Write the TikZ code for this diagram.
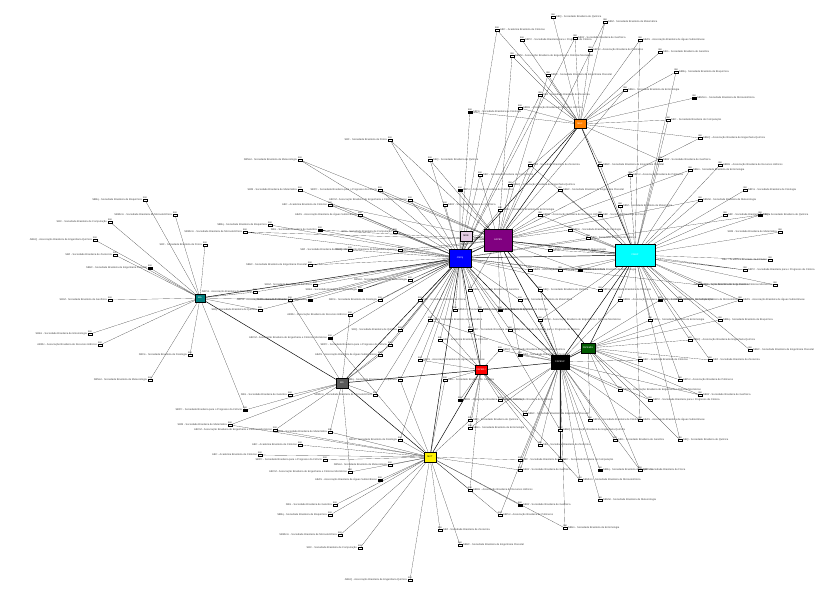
\documentclass[tikz,border=0pt]{standalone}
\usepackage{fontspec}
\setmainfont{Liberation Sans}
\usetikzlibrary{positioning,backgrounds}
\definecolor{cianoviv}{rgb}{0,1,1}
\definecolor{roxoesc}{rgb}{0.5,0,0.5}
\tikzset{
  hub/.style={draw=black, line width=0.3pt, inner sep=0pt, font=\fontsize{2}{2.4}\selectfont, text=white},
  leaf/.style={draw=black, line width=0.2pt, fill=white, minimum width=0.14cm, minimum height=0.08cm, inner sep=0pt},
  lbl/.style={font=\fontsize{2.2}{2.6}\selectfont, text=black!75, inner sep=0.4pt},
  num/.style={font=\fontsize{1.8}{2}\selectfont, inner sep=0.2pt},
  link/.style={line width=0.12pt, black!85},
  tie/.style={line width=0.4pt, black}
}
\newcommand\nomeorg[1]{\ifcase#1 SBF - Sociedade Brasileira de Física\or
  SBQ - Sociedade Brasileira de Química\or
  SBM - Sociedade Brasileira de Matemática\or
  ABC - Academia Brasileira de Ciências\or
  SBPC - Sociedade Brasileira para o Progresso da Ciência\or
  ABCM - Associação Brasileira de Engenharia e Ciências Mecânicas\or
  ABAS - Associação Brasileira de Águas Subterrâneas\or
  SBG - Sociedade Brasileira de Genética\or
  SBBq - Sociedade Brasileira de Bioquímica\or
  SBMicro - Sociedade Brasileira de Microeletrônica\or
  SBC - Sociedade Brasileira de Computação\or
  ABEQ - Associação Brasileira de Engenharia Química\or
  SBZ - Sociedade Brasileira de Zootecnia\or
  SBEF - Sociedade Brasileira de Engenharia Florestal\or
  ABPol - Associação Brasileira de Polímeros\or
  SBGf - Sociedade Brasileira de Geofísica\or
  SBEn - Sociedade Brasileira de Entomologia\or
  ABRH - Associação Brasileira de Recursos Hídricos\or
  SBFis - Sociedade Brasileira de Fisiologia\or
  SBMet - Sociedade Brasileira de Meteorologia\fi}

\begin{document}
\begin{tikzpicture}[x=0.03cm, y=-0.03cm]
\begin{pgfonlayer}{background}
\fill[white] (0,0) rectangle (822,595);
\end{pgfonlayer}
\useasboundingbox (0,0) rectangle (822,595);

% hubs
\node[hub, fill=blue, minimum width=0.66cm, minimum height=0.54cm] (azul) at (460,258) {CNPq};
\node[hub, fill=roxoesc, minimum width=0.84cm, minimum height=0.66cm] (roxo) at (498,240) {CAPES};
\node[hub, fill=cianoviv, minimum width=1.2cm, minimum height=0.66cm] (ciano) at (635,255) {FINEP};
\node[hub, fill=black, minimum width=0.54cm, minimum height=0.42cm] (preto) at (560,362) {FAPESP};
\node[hub, fill=green!35!black, minimum width=0.42cm, minimum height=0.3cm] (verde) at (588,348) {FAPEMIG};
\node[hub, fill=red, minimum width=0.36cm, minimum height=0.27cm] (verm) at (481,370) {FAPERJ};
\node[hub, fill=yellow, text=black, minimum width=0.36cm, minimum height=0.3cm] (amar) at (430,457) {MCT};
\node[hub, fill=orange, minimum width=0.36cm, minimum height=0.27cm] (laranja) at (580,124) {MEC};
\node[hub, fill=black!65, minimum width=0.36cm, minimum height=0.3cm] (cinza) at (342,383) {MS};
\node[hub, fill=teal, minimum width=0.3cm, minimum height=0.24cm] (petro) at (200,298) {MA};
\node[hub, fill=violet!20, text=black, minimum width=0.36cm, minimum height=0.3cm] (lilas) at (466,236) {MRE};

% ligacoes entre hubs
\begin{pgfonlayer}{background}
\foreach \a/\b in {azul/roxo, azul/ciano, roxo/ciano, azul/preto, azul/verm, azul/amar,
  azul/cinza, azul/petro, roxo/laranja, azul/laranja, ciano/laranja, ciano/preto,
  ciano/verde, preto/verde, preto/verm, verm/amar, cinza/amar, cinza/petro,
  roxo/preto, azul/lilas, lilas/roxo, roxo/verde, verm/cinza}
  \draw[tie] (\a) -- (\b);
\end{pgfonlayer}

% entidades
\foreach \x/\y/\h/\k [count=\n] in {
  553/17/laranja/laranja, 605/22/laranja/roxo, 497/30/laranja/azul, 522/40/laranja/laranja,
  512/56/laranja/roxo, 640/40/laranja/ciano, 660/52/laranja/laranja, 676/72/laranja/ciano,
  694/98/laranja/laranja, 668/120/laranja/ciano, 700/138/laranja/roxo, 540/95/laranja/azul,
  548/75/laranja/roxo, 590/50/laranja/laranja, 575/38/laranja/azul, 625/90/laranja/roxo,
  520/108/laranja/azul, 470/112/laranja/azul,
  300/160/azul/roxo, 390/140/roxo/azul, 430/160/azul/roxo, 300/190/azul/azul,
  330/205/azul/roxo, 380/190/azul/roxo, 410/200/roxo/azul, 360/215/azul/azul,
  320/230/azul/roxo, 270/225/azul/azul, 245/232/azul/roxo, 395/232/azul/azul,
  400/250/azul/roxo, 350/250/azul/azul, 310/265/azul/roxo, 290/300/azul/cinza,
  315/285/azul/azul, 360/290/azul/roxo, 350/315/azul/cinza, 380/300/azul/azul,
  410/280/azul/roxo, 420/300/azul/verm, 400/330/azul/azul, 430/320/azul/preto,
  440/340/azul/verm, 390/345/azul/cinza, 330/338/azul/amar, 420/360/verm/azul,
  445/380/verm/amar, 400/380/azul/amar, 375/395/cinza/azul,
  480/175/roxo/azul, 510/185/roxo/laranja, 530/165/roxo/ciano, 560/190/roxo/ciano,
  460/190/azul/roxo, 445/205/azul/azul, 500/210/roxo/azul, 540/215/roxo/ciano,
  570/230/ciano/roxo, 550/250/roxo/ciano, 560/270/azul/ciano, 540/290/roxo/preto,
  520/300/azul/preto, 500/310/azul/roxo, 510/330/preto/azul, 540/320/preto/ciano,
  530/270/roxo/azul, 470/290/azul/roxo, 480/310/azul/verm, 455/310/azul/azul,
  470/330/verm/azul, 500/350/verm/preto, 520/355/preto/roxo,
  600/165/ciano/laranja, 630/175/ciano/ciano, 660/160/ciano/laranja, 690/170/ciano/roxo,
  720/165/ciano/ciano, 745/190/ciano/ciano, 700/200/ciano/roxo, 725/215/ciano/ciano,
  760/215/ciano/azul, 780/232/ciano/ciano, 770/260/ciano/ciano, 745/270/ciano/roxo,
  775/285/ciano/ciano, 740/300/ciano/verde, 700/285/ciano/azul, 720/320/ciano/verde,
  680/300/ciano/ciano, 660/300/ciano/preto, 690/340/ciano/verde, 710/360/verde/ciano,
  750/350/ciano/ciano, 680/380/verde/ciano, 700/395/verde/preto, 650/320/ciano/verde,
  620/300/ciano/preto, 600/290/ciano/azul, 580/270/ciano/roxo, 600/215/ciano/roxo,
  588/238/ciano/azul, 620/206/ciano/ciano,
  640/360/verde/preto, 650/400/verde/preto, 620/390/preto/verde, 640/420/preto/ciano,
  615/440/preto/preto, 600/470/preto/preto, 580/480/preto/verm, 560/460/preto/preto,
  560/430/preto/azul, 540/445/preto/verm, 525/414/preto/verm, 500/400/verm/preto,
  520/470/preto/amar, 470/428/verm/preto, 460/400/verm/azul, 590/420/preto/verde,
  600/500/preto/preto, 640/470/verde/preto, 680/440/verde/ciano,
  330/432/amar/cinza, 300/445/amar/amar, 325/460/amar/amar, 350/472/amar/cinza,
  380/480/amar/amar, 335/505/amar/amar, 330/515/amar/amar, 340/535/amar/amar,
  360/548/amar/amar, 410/580/amar/amar, 440/530/amar/amar, 460/545/amar/amar,
  500/515/amar/preto, 520/505/amar/amar, 565/528/amar/preto, 470/490/amar/verm,
  400/440/amar/azul, 390/465/amar/amar, 520/460/amar/preto, 470/420/verm/amar,
  230/425/amar/cinza, 260/455/amar/amar,
  245/410/cinza/petro, 275/430/cinza/amar, 380/355/cinza/azul, 290/395/cinza/cinza,
  145/200/petro/petro, 175/215/petro/petro, 110/222/petro/petro, 95/240/petro/petro,
  115/255/petro/petro, 150/268/petro/petro, 255/292/petro/azul, 110/300/petro/petro,
  90/334/petro/petro, 100/345/petro/petro, 190/355/petro/petro, 150/380/petro/petro,
  205/245/petro/petro, 260/310/petro/azul, 310/300/petro/azul}
{
  \pgfmathtruncatemacro\idx{mod(\n,20)}
  \pgfmathtruncatemacro\preen{mod(\n,9)==0 ? 1 : 0}
  \def\lado{right}
  \ifnum\x<420 \def\lado{left}\fi
  \ifnum\x>765 \def\lado{left}\fi
  \ifnum\preen=1 \def\cor{black}\else\def\cor{white}\fi
  \node[leaf, fill=\cor, label={[num]above:000}, label={[lbl]\lado:\nomeorg{\idx}}] (f\n) at (\x,\y) {};
  \begin{pgfonlayer}{background}
  \draw[link] (\h) -- (f\n) -- (\k);
  \end{pgfonlayer}
}
\end{tikzpicture}
\end{document}
